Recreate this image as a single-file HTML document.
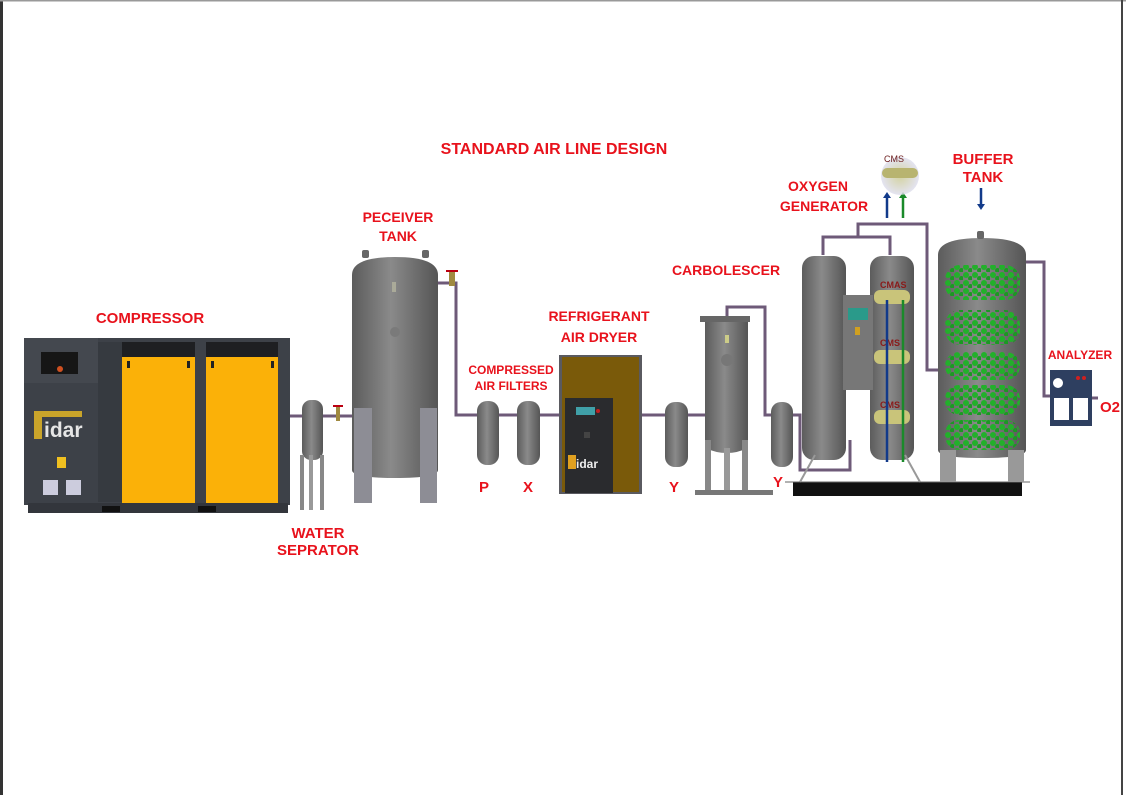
<!DOCTYPE html>
<html><head><meta charset="utf-8"><style>
html,body{margin:0;padding:0;background:#fff;}
svg{display:block}
text{font-family:"Liberation Sans",sans-serif;font-weight:bold;fill:#e8121c;}
</style></head><body>
<svg width="1126" height="795" viewBox="0 0 1126 795" xmlns="http://www.w3.org/2000/svg">
<defs>
<linearGradient id="tg" x1="0" x2="1" y1="0" y2="0">
<stop offset="0" stop-color="#5c5c5c"/><stop offset="0.45" stop-color="#8a8a8a"/><stop offset="1" stop-color="#555"/>
</linearGradient>
<radialGradient id="cm"><stop offset="0" stop-color="#c8c78a"/><stop offset="1" stop-color="#dde"/></radialGradient>
<pattern id="gp" width="9" height="8" patternUnits="userSpaceOnUse">
<circle cx="3" cy="3" r="3" fill="#22b02a"/><circle cx="7.5" cy="6.5" r="2.5" fill="#1a9a22"/>
</pattern>
</defs>
<rect x="0" y="0" width="1126" height="795" fill="#fff"/>
<rect x="0" y="0" width="3" height="795" fill="#333"/>
<rect x="0" y="0" width="1126" height="1.5" fill="#999"/>
<rect x="1121" y="0" width="2" height="795" fill="#444"/>

<g fill="none" stroke="#6e5a78" stroke-width="3">
<polyline points="290,416 355,416"/>
<polyline points="438,283 456,283 456,415 478,415"/>
<polyline points="499,415 518,415"/>
<polyline points="540,415 562,415"/>
<polyline points="640,415 666,415"/>
<polyline points="688,415 705,415"/>
<polyline points="727,318 727,307 765,307 765,415 772,415"/>
<polyline points="793,415 800,415 800,470 850,470 850,440"/>
<polyline points="823,255 823,237 890,237 890,255"/>
<polyline points="858,237 858,224 927,224 927,370 940,370"/>
<polyline points="1026,262 1044,262 1044,396 1050,396"/>
<polyline points="1092,398 1098,398"/>
</g>

<rect x="24" y="338" width="266" height="167" fill="#3d4148"/>
<rect x="28" y="503" width="260" height="10" fill="#33363c"/>
<rect x="24" y="338" width="74" height="45" fill="#44484f"/>
<rect x="41" y="352" width="37" height="22" fill="#161616"/>
<circle cx="60" cy="369" r="3" fill="#d05020"/>
<rect x="98" y="342" width="24" height="160" fill="#363a40"/>
<rect x="122" y="342" width="73" height="16" fill="#1e1f22"/>
<rect x="206" y="342" width="72" height="16" fill="#1e1f22"/>
<rect x="122" y="357" width="73" height="146" fill="#fbb108"/>
<rect x="206" y="357" width="72" height="146" fill="#fbb108"/>
<rect x="127" y="361" width="3" height="7" fill="#222"/><rect x="187" y="361" width="3" height="7" fill="#222"/>
<rect x="211" y="361" width="3" height="7" fill="#222"/><rect x="271" y="361" width="3" height="7" fill="#222"/>
<rect x="34" y="411" width="48" height="6" fill="#c9a42a"/>
<rect x="34" y="411" width="8" height="28" fill="#c9a42a"/>
<text x="44" y="437" style="fill:#e6e6e6;font-size:21px">idar</text>
<rect x="57" y="457" width="9" height="11" fill="#f0c020"/>
<rect x="43" y="480" width="15" height="15" fill="#ccd"/><rect x="66" y="480" width="15" height="15" fill="#ccd"/>
<rect x="102" y="506" width="18" height="6" fill="#111"/><rect x="198" y="506" width="18" height="6" fill="#111"/>

<rect x="302" y="400" width="21" height="60" rx="9" fill="url(#tg)"/>
<rect x="300" y="455" width="4" height="55" fill="#888"/><rect x="309" y="455" width="4" height="55" fill="#999"/><rect x="320" y="455" width="4" height="55" fill="#888"/>
<rect x="333" y="405" width="10" height="2" fill="#b01"/><rect x="336" y="407" width="4" height="14" fill="#a08a40"/>

<path d="M352,275 Q352,257 395,257 Q438,257 438,275 L438,470 Q438,478 395,478 Q352,478 352,470 Z" fill="url(#tg)"/>
<rect x="362" y="250" width="7" height="8" rx="2" fill="#666"/><rect x="422" y="250" width="7" height="8" rx="2" fill="#666"/>
<rect x="392" y="282" width="4" height="10" fill="#aa9"/>
<circle cx="395" cy="332" r="5" fill="#7a7a7a"/>
<rect x="354" y="408" width="18" height="95" fill="#8d8d95"/>
<rect x="420" y="408" width="17" height="95" fill="#8d8d95"/>
<rect x="446" y="270" width="12" height="2" fill="#b01"/><rect x="449" y="272" width="6" height="14" fill="#a08a40"/>

<g fill="url(#tg)">
<rect x="477" y="401" width="22" height="64" rx="10"/>
<rect x="517" y="401" width="23" height="64" rx="10"/>
<rect x="665" y="402" width="23" height="65" rx="10"/>
<rect x="771" y="402" width="22" height="65" rx="10"/>
</g>

<rect x="559" y="355" width="83" height="139" fill="#5a5a60"/>
<rect x="562" y="357" width="77" height="135" fill="#7a5a0a"/>
<rect x="565" y="398" width="48" height="95" fill="#2a2b2e"/>
<rect x="576" y="407" width="19" height="8" fill="#40a0a8"/>
<circle cx="598" cy="411" r="2" fill="#c02020"/>
<rect x="584" y="432" width="6" height="6" fill="#444"/>
<rect x="568" y="455" width="8" height="14" fill="#e0a020"/>
<text x="576" y="468" style="fill:#eee;font-size:12px">idar</text>

<rect x="700" y="316" width="50" height="6" fill="#666"/>
<path d="M705,322 L748,322 L748,448 Q727,458 705,448 Z" fill="url(#tg)"/>
<circle cx="727" cy="360" r="6" fill="#777"/>
<rect x="725" y="335" width="4" height="8" fill="#cc8"/>
<rect x="705" y="440" width="6" height="50" fill="#888"/><rect x="724" y="448" width="6" height="42" fill="#999"/><rect x="742" y="440" width="6" height="50" fill="#888"/>
<rect x="695" y="490" width="78" height="5" fill="#777"/>

<rect x="793" y="482" width="229" height="14" fill="#111"/>
<line x1="785" y1="482" x2="1030" y2="482" stroke="#666" stroke-width="1"/>

<rect x="802" y="256" width="44" height="204" rx="12" fill="url(#tg)"/>
<rect x="870" y="256" width="44" height="204" rx="12" fill="url(#tg)"/>
<rect x="843" y="295" width="30" height="95" fill="#777"/>
<rect x="848" y="308" width="20" height="12" fill="#2a9a8a"/>
<rect x="855" y="327" width="5" height="8" fill="#d0a020"/>
<g fill="#c9c47a">
<rect x="874" y="290" width="36" height="14" rx="6"/>
<rect x="874" y="350" width="36" height="14" rx="6"/>
<rect x="874" y="410" width="36" height="14" rx="6"/>
</g>
<text x="880" y="288" style="fill:#8a1a1a;font-size:9px">CMAS</text><text x="880" y="346" style="fill:#8a1a1a;font-size:9px">CMS</text><text x="880" y="408" style="fill:#8a1a1a;font-size:9px">CMS</text>
<g stroke-width="2.5">
<line x1="887" y1="462" x2="887" y2="300" stroke="#123a8a"/>
<line x1="903" y1="462" x2="903" y2="300" stroke="#1a8a2a"/>
<line x1="887" y1="218" x2="887" y2="196" stroke="#123a8a"/>
<line x1="903" y1="218" x2="903" y2="196" stroke="#1a8a2a"/>
<line x1="981" y1="188" x2="981" y2="206" stroke="#123a8a"/>
</g>
<polygon points="883,198 891,198 887,192" fill="#123a8a"/><polygon points="899,198 907,198 903,192" fill="#1a8a2a"/>
<polygon points="977,204 985,204 981,210" fill="#123a8a"/>
<circle cx="900" cy="176" r="19" fill="url(#cm)" opacity="0.8"/>
<rect x="882" y="168" width="36" height="10" rx="5" fill="#b8b470"/>
<text x="884" y="162" style="fill:#6a1a1a;font-size:9px;font-weight:normal">CMS</text>
<line x1="800" y1="482" x2="815" y2="455" stroke="#999" stroke-width="2"/>
<line x1="920" y1="482" x2="905" y2="455" stroke="#999" stroke-width="2"/>

<path d="M938,255 Q938,238 982,238 Q1026,238 1026,255 L1026,450 Q1026,458 982,458 Q938,458 938,450 Z" fill="url(#tg)"/>
<rect x="977" y="231" width="7" height="8" rx="2" fill="#666"/>
<rect x="940" y="450" width="16" height="32" fill="#999"/><rect x="1008" y="450" width="16" height="32" fill="#999"/>
<g fill="url(#gp)">
<rect x="945" y="265" width="75" height="35" rx="15"/>
<rect x="945" y="310" width="75" height="35" rx="15"/>
<rect x="945" y="352" width="75" height="28" rx="14"/>
<rect x="945" y="385" width="75" height="30" rx="14"/>
<rect x="945" y="420" width="75" height="30" rx="14"/>
</g>

<rect x="1050" y="370" width="42" height="56" fill="#2e3f60"/>
<circle cx="1058" cy="383" r="5" fill="#fff"/>
<circle cx="1078" cy="378" r="2" fill="#d02020"/><circle cx="1084" cy="378" r="2" fill="#d02020"/>
<rect x="1054" y="398" width="15" height="22" fill="#fff"/><rect x="1073" y="398" width="15" height="22" fill="#fff"/>

<g font-size="15" text-anchor="middle">
<text x="554" y="154" font-size="16">STANDARD AIR LINE DESIGN</text>
<text x="150" y="323">COMPRESSOR</text>
<text x="318" y="538">WATER</text><text x="318" y="555">SEPRATOR</text>
<text x="398" y="222" font-size="14">PECEIVER</text><text x="398" y="241" font-size="14">TANK</text>
<text x="511" y="374" font-size="12">COMPRESSED</text><text x="511" y="390" font-size="12">AIR FILTERS</text>
<text x="599" y="321" font-size="14">REFRIGERANT</text><text x="599" y="342" font-size="14">AIR DRYER</text>
<text x="726" y="275" font-size="14">CARBOLESCER</text>
<text x="818" y="191" font-size="14">OXYGEN</text><text x="824" y="211" font-size="14">GENERATOR</text>
<text x="983" y="164">BUFFER</text><text x="983" y="182">TANK</text>
<text x="1080" y="359" font-size="12">ANALYZER</text>
<text x="1110" y="412" font-size="15">O2</text>
<text x="484" y="492">P</text><text x="528" y="492">X</text>
<text x="674" y="492">Y</text><text x="778" y="487">Y</text>
</g>
</svg>
</body></html>
